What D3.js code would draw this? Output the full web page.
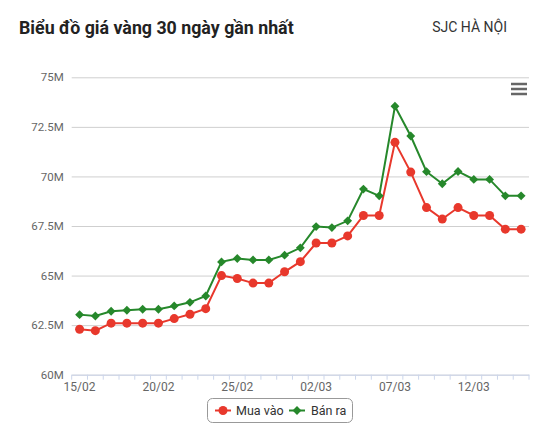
<!DOCTYPE html>
<html>
<head>
<meta charset="utf-8">
<script src="https://cdn.jsdelivr.net/npm/d3@7/dist/d3.min.js"></script>
<style>
  body { margin: 0; background: #fff; font-family: Roboto, "Noto Sans", sans-serif; }
</style>
</head>
<body>
<div id="chart"></div>
<script>
// Gia vang SJC Ha Noi, 30 ngay gan nhat (trieu dong / luong)
var days = ["15/02", "16/02", "17/02", "18/02", "19/02", "20/02", "21/02", "22/02",
  "23/02", "24/02", "25/02", "26/02", "27/02", "28/02", "01/03", "02/03", "03/03",
  "04/03", "05/03", "06/03", "07/03", "08/03", "09/03", "10/03", "11/03", "12/03",
  "13/03", "14/03", "15/03"];
var muaVao = [62.29, 62.22, 62.6, 62.6, 62.6, 62.6, 62.83, 63.05, 63.33, 65.0,
  64.85, 64.62, 64.62, 65.19, 65.7, 66.64, 66.64, 67.0, 68.03, 68.03,
  71.72, 70.22, 68.43, 67.85, 68.43, 68.03, 68.03, 67.34, 67.34];
var banRa = [63.03, 62.96, 63.2, 63.25, 63.3, 63.3, 63.47, 63.65, 63.97, 65.69,
  65.86, 65.79, 65.79, 66.03, 66.4, 67.47, 67.42, 67.76, 69.36, 69.02,
  73.54, 72.04, 70.24, 69.63, 70.25, 69.85, 69.85, 69.02, 69.02];
var yTicks = [60, 62.5, 65, 67.5, 70, 72.5, 75];
var xLabelDays = ["15/02", "20/02", "25/02", "02/03", "07/03", "12/03"];
var seriesNames = ["Mua vào", "Bán ra"];

(function() {
  var W = 555, H = 438;
  var colors = ["#e8382c", "#26882b"];
  var left = 71.7, right = 529, top = 77.3, bottom = 374.7;

  var svg = d3.select("#chart").append("svg")
    .attr("width", W).attr("height", H);

  // title
  svg.append("text").attr("x", 19).attr("y", 33.5)
    .style("font-size", "17.8px").style("font-weight", "bold").style("fill", "#222")
    .text("Biểu đồ giá vàng 30 ngày gần nhất");
  svg.append("text").attr("x", 507).attr("y", 32).attr("text-anchor", "end")
    .style("font-size", "14px").style("fill", "#333")
    .text("SJC HÀ NỘI");

  var x = d3.scaleBand().domain(days).range([left, right]).padding(0);
  var y = d3.scaleLinear().domain([60, 75]).range([bottom, top]);
  var cx = function(d) { return x(d) + x.bandwidth() / 2; };

  // grid + y labels
  var yAxis = d3.axisLeft(y).tickValues(yTicks)
    .tickSize(-(right - left)).tickPadding(8)
    .tickFormat(function(d) { return d + "M"; });
  var gy = svg.append("g").attr("transform", "translate(" + left + ",0)").call(yAxis);
  gy.select(".domain").remove();
  gy.selectAll("line").attr("stroke", "#cfcfcf");
  gy.selectAll("text").style("font-size", "11.5px").style("fill", "#666")
    .style("font-family", "Roboto, sans-serif").attr("x", -8);

  // x axis, ticks between categories
  var xAxis = d3.axisBottom(x).tickSize(0).tickPadding(8)
    .tickFormat(function(d) { return xLabelDays.indexOf(d) >= 0 ? d : ""; });
  var gx = svg.append("g").attr("transform", "translate(0," + bottom + ")").call(xAxis);
  gx.select(".domain").attr("stroke", "#ccd6eb");
  gx.selectAll("text").style("font-size", "12px").style("fill", "#666")
    .style("font-family", "Roboto, sans-serif");
  gx.selectAll(".tick").append("line")
    .attr("x1", -x.bandwidth() / 2).attr("x2", -x.bandwidth() / 2)
    .attr("y1", 0).attr("y2", 5).attr("stroke", "#ccd6eb");
  gx.append("line").attr("x1", right).attr("x2", right)
    .attr("y1", 0).attr("y2", 5).attr("stroke", "#ccd6eb");

  // lines
  var line = d3.line()
    .x(function(d, i) { return cx(days[i]); })
    .y(function(d) { return y(d); });
  var diamond = d3.symbol().type(d3.symbolDiamond2).size(50);

  [muaVao, banRa].forEach(function(vals, k) {
    svg.append("path").datum(vals)
      .attr("d", line).attr("fill", "none")
      .attr("stroke", colors[k]).attr("stroke-width", 2);
    var pts = svg.append("g").selectAll("path").data(vals).enter();
    if (k === 0) {
      pts.append("circle")
        .attr("cx", function(d, i) { return cx(days[i]); })
        .attr("cy", function(d) { return y(d); })
        .attr("r", 4.5).attr("fill", colors[k]);
    } else {
      pts.append("path")
        .attr("d", diamond)
        .attr("transform", function(d, i) { return "translate(" + cx(days[i]) + "," + y(d) + ")"; })
        .attr("fill", colors[k]);
    }
  });

  // menu icon
  [84, 89, 94].forEach(function(yy) {
    svg.append("line").attr("x1", 511).attr("x2", 527).attr("y1", yy).attr("y2", yy)
      .attr("stroke", "#666").attr("stroke-width", 2.5);
  });

  // legend
  var lg = svg.append("g");
  lg.append("rect").attr("x", 207.5).attr("y", 398.5).attr("width", 145).attr("height", 24)
    .attr("rx", 5).attr("fill", "#fff").attr("stroke", "#999");
  var items = [{ x: 215, t: 236 }, { x: 289, t: 311 }];
  items.forEach(function(it, k) {
    lg.append("line").attr("x1", it.x).attr("x2", it.x + 16).attr("y1", 410.5).attr("y2", 410.5)
      .attr("stroke", colors[k]).attr("stroke-width", 2);
    if (k === 0) {
      lg.append("circle").attr("cx", it.x + 8).attr("cy", 410.5).attr("r", 4.5).attr("fill", colors[k]);
    } else {
      lg.append("path").attr("d", diamond)
        .attr("transform", "translate(" + (it.x + 8) + ",410.5)").attr("fill", colors[k]);
    }
    lg.append("text").attr("x", it.t).attr("y", 415)
      .style("font-size", "12.5px").style("fill", "#333")
      .text(seriesNames[k]);
  });
})();
</script>
</body>
</html>
